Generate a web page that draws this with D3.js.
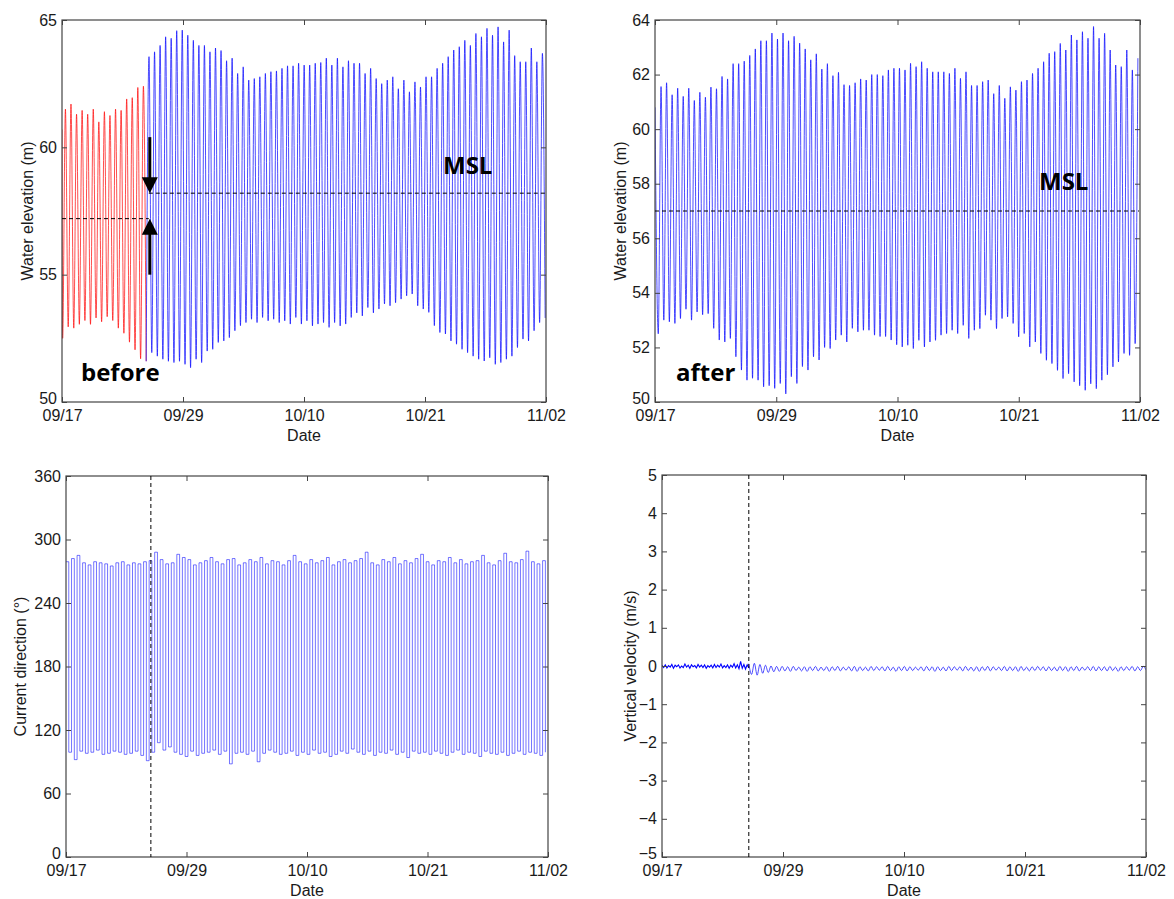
<!DOCTYPE html>
<html>
<head>
<meta charset="utf-8">
<script src="https://cdn.jsdelivr.net/npm/d3@7"></script>
<style>
  body { margin: 0; background: #fff; }
  svg text { font-family: "Liberation Sans", Arial, sans-serif; fill: #1a1a1a; }
  .note { font-family: "Open Sans", sans-serif; font-weight: 700; fill: #000; }
</style>
</head>
<body>
<svg id="chart" width="1174" height="899"></svg>
<script>
// x axis is days after 09/17
const xTickDays = [0, 11.5, 23, 34.5, 46];
const xTickLabels = ["09/17", "09/29", "10/10", "10/21", "11/02"];
const switchDay = 8.25;

// top left: before (red) part, low/high water of every tide
const beforeStart = 60.7;
const beforeLow = [52.5, 52.95, 52.9, 53.05, 53.2, 53.05, 53.3, 53.15, 53.35, 53.2, 52.9, 52.7, 52.35, 52.05, 51.7, 51.6];
const beforeHigh = [61.5, 61.7, 61.3, 61.45, 61.3, 61.5, 61.0, 61.4, 61.25, 61.5, 61.45, 61.9, 61.95, 62.35, 62.4];
const beforeMsl = 57.2;

// top left: blue part
const tlHigh = [63.56, 63.75, 64.0, 64.34, 64.28, 64.58, 64.6, 64.4, 64.2, 64.0, 64.0, 63.75, 63.9, 63.8, 63.4, 63.5, 62.9, 63.16, 62.64, 62.7, 62.77, 62.9, 62.97, 63.0, 63.1, 63.2, 63.2, 63.3,
  63.23, 63.23, 63.3, 63.33, 63.5, 63.23, 63.5, 63.16, 63.4, 63.3, 63.3, 62.9, 63.1, 62.7, 62.5, 62.64, 62.77, 62.3, 62.64, 62.18, 62.57, 62.37, 62.77, 62.77, 63.1, 63.3, 63.56, 63.82, 63.95, 64.2, 64.0, 64.47, 64.34, 64.67, 64.4, 64.73, 64.14, 64.6, 63.6, 63.36, 63.36, 63.9, 63.36, 63.69];
const tlLow = [51.94, 51.8, 51.68, 51.6, 51.55, 51.6, 51.48, 51.35, 51.68, 51.55, 52.0, 52.07, 52.34, 52.4, 52.53, 52.8, 53.0, 53.12, 53.25, 53.12, 53.32, 53.19, 53.25, 53.12, 53.19, 53.06, 53.32, 53.06,
  53.19, 52.99, 53.06, 53.12, 52.93, 53.12, 52.99, 53.06, 53.32, 53.5, 53.38, 53.71, 53.5, 53.65, 53.85, 53.78, 53.9, 54.04, 54.17, 54.24, 53.78, 53.65, 53.52, 53.0, 52.73, 52.67, 52.4, 52.27, 52.07, 51.94, 51.8, 51.68, 51.61, 51.74, 51.48, 51.55, 51.68, 51.8, 52.14, 52.47, 52.4, 52.8, 53.12, 53.3];
const tlStart = 51.6;
const afterMslTL = 58.2;

// top right: after
const trStart = 60.8;
const trLow = [52.5, 53.0, 52.94, 52.88, 53.06, 53.4, 53.0, 53.3, 53.2, 53.24, 52.7, 52.27, 52.2, 52.33, 51.66, 51.17, 50.8, 50.87, 50.8, 50.56, 50.6, 50.5, 50.68, 50.3, 50.93, 50.68, 51.3, 51.17, 51.66, 51.54, 52.0, 51.96, 52.27, 52.45, 52.2, 52.7, 52.57, 52.63, 52.63, 52.45, 52.4, 52.4, 52.27, 52.1,
  52.02, 52.08, 51.96, 52.26, 52.02, 52.2, 52.26, 52.45, 52.51, 52.63, 52.51, 52.81, 52.33, 52.63, 52.69, 53.18, 53.0, 52.69, 53.06, 53.12, 52.88, 52.39, 52.51, 52.02, 52.2, 51.78, 51.53, 51.41, 51.16, 50.86, 51.04, 50.74, 50.6, 50.43, 50.67, 50.49, 50.8, 51.0, 51.29, 51.47, 51.78, 51.71, 52.14];
const trHigh = [61.56, 61.7, 61.26, 61.5, 61.2, 61.5, 61.05, 61.35, 61.17, 61.54, 61.48, 61.93, 61.84, 62.4, 62.4, 62.49, 62.7, 62.94, 63.24, 63.24, 63.52, 63.3, 63.52, 63.24, 63.4, 63.15, 62.94, 62.54, 62.76, 62.2, 62.4, 61.96, 62.08, 61.63, 61.6, 61.7, 61.84, 61.8, 62.0, 62.0, 61.96,
  62.17, 62.23, 62.23, 62.17, 62.41, 62.29, 62.47, 62.23, 62.1, 62.1, 62.1, 62.04, 62.23, 61.86, 62.1, 61.6, 61.6, 61.74, 61.8, 61.3, 61.6, 61.13, 61.55, 61.43, 61.74, 61.8, 62.04, 62.23, 62.47, 62.78, 62.84, 63.14, 62.9, 63.45, 63.27, 63.57, 63.33, 63.76, 63.33, 63.51, 62.9, 62.35, 62.29, 62.9, 62.17, 62.6];
const afterMslTR = 57.0;

// bottom left: current direction plateaus of every tide (deg)
const dirHigh = [279, 282, 285, 278, 276, 279, 278, 277, 275, 278, 279, 276, 278, 277, 279, 280, 288, 281, 277, 278, 286, 283, 281, 276, 278, 280, 283, 279, 277, 281,
  282, 276, 278, 281, 279, 283, 277, 280, 279, 276, 280, 285, 279, 277, 281, 278, 280, 283, 276, 279, 281, 278, 280, 282, 288, 278, 276, 281, 279, 283,
  277, 280, 278, 282, 286, 279, 276, 280, 279, 283, 278, 281, 277, 279, 280, 285, 278, 276, 280, 287, 279, 278, 281, 289, 279, 277, 280];
const dirLow = [99, 92, 100, 98, 99, 101, 97, 98, 100, 99, 97, 98, 100, 96, 91, 99, 108, 101, 104, 99, 97, 95, 100, 96, 98, 99, 101, 97, 100, 88,
  98, 99, 97, 100, 90, 98, 101, 99, 97, 98, 100, 96, 99, 97, 101, 98, 99, 95, 97, 100, 98, 102, 99, 97, 100, 96, 99, 98, 101, 97,
  99, 94, 100, 98, 99, 97, 100, 98, 96, 99, 101, 97, 99, 98, 95, 100, 98, 97, 99, 96, 98, 100, 97, 99, 98, 96, 99];

// bottom right: vertical velocity (m/s)
const velBefore = [0.02, -0.04, 0.03, -0.05, 0.01, -0.03, 0.04, -0.06, 0.02, -0.02, 0.03, -0.05, 0.0, -0.04, 0.05, -0.03, 0.02, -0.06, 0.03, -0.02, 0.01, -0.05, 0.04, -0.03, 0.02, -0.04, 0.03,
  -0.06, 0.01, -0.03, 0.02, -0.05, 0.04, -0.04, 0.02, -0.03, 0.05, -0.05, 0.01, -0.04, 0.03, -0.06, 0.02, -0.03, 0.06, -0.05, 0.03, -0.07, 0.12, -0.06, 0.04, -0.08, 0.03, -0.05];
const velHigh = [0.06, 0.07, 0.04, 0.02, 0.0, -0.01, -0.01, -0.02, -0.01, -0.03, -0.02, -0.02, -0.01, -0.03, -0.02, -0.02, -0.01, -0.03, -0.02, -0.01, -0.02, -0.03, -0.01, -0.02, -0.02, -0.01, -0.03, -0.02, -0.01, -0.02, -0.03, -0.02, -0.01, -0.02, -0.02, -0.03,
  -0.01, -0.02, -0.02, -0.01, -0.03, -0.02, -0.02, -0.01, -0.02, -0.03, -0.01, -0.02, -0.02, -0.01, -0.03, -0.02, -0.01, -0.02, -0.02, -0.03, -0.01, -0.02, -0.02, -0.01, -0.03, -0.02, -0.01, -0.02, -0.02, -0.01, -0.03, -0.02, -0.02, -0.01, -0.02, -0.01];
const velLow = [-0.22, -0.24, -0.19, -0.17, -0.15, -0.14, -0.13, -0.14, -0.12, -0.13, -0.14, -0.12, -0.13, -0.12, -0.14, -0.12, -0.13, -0.11, -0.13, -0.14, -0.12, -0.13, -0.12, -0.11, -0.13, -0.12, -0.14, -0.12, -0.13, -0.12, -0.11, -0.13, -0.12, -0.14, -0.12, -0.13,
  -0.12, -0.11, -0.13, -0.12, -0.13, -0.14, -0.12, -0.13, -0.11, -0.12, -0.13, -0.12, -0.14, -0.12, -0.13, -0.12, -0.11, -0.13, -0.12, -0.13, -0.12, -0.14, -0.12, -0.13, -0.11, -0.12, -0.13, -0.12, -0.13, -0.12, -0.14, -0.12, -0.11, -0.13, -0.12, -0.1];

// helpers: put two lists in turn and spread them evenly in time
function interleave(a, b) {
  const out = [];
  for (let i = 0; i < Math.max(a.length, b.length); i++) {
    if (i < a.length) out.push(a[i]);
    if (i < b.length) out.push(b[i]);
  }
  return out;
}
function timed(values, t0, t1) {
  const step = (t1 - t0) / (values.length - 1);
  return values.map((v, i) => ({ t: t0 + i * step, v: v }));
}

const svg = d3.select("#chart");
const BLUE = "#0000ff", RED = "#ff0000";

function panel(box, yDomain, yTicks, yLabel, labelX) {
  const g = svg.append("g");
  const x = d3.scaleLinear().domain([0, 46]).range([box.left, box.right]);
  const y = d3.scaleLinear().domain(yDomain).range([box.bottom, box.top]);
  const id = "clip" + Math.round(box.left) + Math.round(box.top);
  svg.append("clipPath").attr("id", id).append("rect")
    .attr("x", box.left).attr("y", box.top)
    .attr("width", box.right - box.left).attr("height", box.bottom - box.top);
  const plot = g.append("g").attr("clip-path", `url(#${id})`);

  const ax = g.append("g");
  const bottom = d3.axisBottom(x).tickValues(xTickDays).tickFormat((d, i) => xTickLabels[i])
    .tickSizeInner(-5).tickSizeOuter(0).tickPadding(8);
  const top = d3.axisTop(x).tickValues(xTickDays).tickFormat("").tickSizeInner(-5).tickSizeOuter(0);
  const left = d3.axisLeft(y).tickValues(yTicks).tickSizeInner(-5).tickSizeOuter(0).tickPadding(5);
  const right = d3.axisRight(y).tickValues(yTicks).tickFormat("").tickSizeInner(-5).tickSizeOuter(0);
  ax.append("g").attr("transform", `translate(0,${box.bottom})`).call(bottom);
  ax.append("g").attr("transform", `translate(0,${box.top})`).call(top);
  const leftG = ax.append("g").attr("transform", `translate(${box.left},0)`).call(left);
  ax.append("g").attr("transform", `translate(${box.right},0)`).call(right);
  ax.selectAll(".domain").remove();
  ax.selectAll(".tick line").attr("stroke", "#444");
  ax.selectAll(".tick text").attr("font-size", 16).attr("fill", "#1a1a1a");
  // lowest value label sits in the corner, just above the first date
  leftG.selectAll(".tick text").filter(d => d === yDomain[0]).attr("y", -4);
  g.append("rect").attr("x", box.left).attr("y", box.top)
    .attr("width", box.right - box.left).attr("height", box.bottom - box.top)
    .attr("fill", "none").attr("stroke", "#444").attr("stroke-width", 1.2);

  g.append("text").attr("x", (box.left + box.right) / 2).attr("y", box.bottom + 39)
    .attr("text-anchor", "middle").attr("font-size", 16).text("Date");
  g.append("text").attr("transform", `translate(${labelX},${(box.top + box.bottom) / 2}) rotate(-90)`)
    .attr("text-anchor", "middle").attr("dominant-baseline", "central")
    .attr("font-size", 16).text(yLabel);
  return { x, y, plot, g };
}

function drawLine(p, data, color, curve, width) {
  p.plot.append("path").datum(data)
    .attr("fill", "none").attr("stroke", color).attr("stroke-width", width || 0.7)
    .attr("d", d3.line().x(d => p.x(d.t)).y(d => p.y(d.v)).curve(curve));
}
function dashed(p, x1, x2, y1, y2) {
  p.g.append("line").attr("x1", x1).attr("x2", x2).attr("y1", y1).attr("y2", y2)
    .attr("stroke", "#000").attr("stroke-width", 1).attr("stroke-dasharray", "4,3");
}

// ---- top left
const tl = panel({ left: 62, top: 20, right: 546, bottom: 402 }, [50, 65], [50, 55, 60, 65], "Water elevation (m)", 27);
drawLine(tl, [{ t: 0, v: beforeStart }].concat(timed(interleave(beforeLow, beforeHigh), 0.06, 8.0)), RED, d3.curveMonotoneX);
drawLine(tl, [{ t: 8.0, v: tlStart }].concat(timed(interleave(tlHigh, tlLow), 8.27, 45.92)), BLUE, d3.curveMonotoneX);
dashed(tl, tl.x(0), tl.x(switchDay), tl.y(beforeMsl), tl.y(beforeMsl));
dashed(tl, tl.x(switchDay), tl.x(46) - 1, tl.y(afterMslTL), tl.y(afterMslTL));

// arrows toward both mean levels
const ax0 = tl.x(switchDay) + 1;
function arrow(fromV, toV) {
  const y0 = tl.y(fromV), y1 = tl.y(toV);
  const dir = y1 > y0 ? 1 : -1;
  tl.g.append("line").attr("x1", ax0).attr("x2", ax0).attr("y1", y0).attr("y2", y1 - dir * 12)
    .attr("stroke", "#000").attr("stroke-width", 3);
  tl.g.append("path").attr("fill", "#000")
    .attr("d", `M${ax0 - 8},${y1 - dir * 16}L${ax0 + 8},${y1 - dir * 16}L${ax0},${y1}Z`);
}
arrow(60.4, afterMslTL);
arrow(55.0, beforeMsl);
tl.g.append("text").attr("class", "note").attr("x", 81).attr("y", 381).attr("font-size", 24).text("before");
tl.g.append("text").attr("class", "note").attr("x", 443).attr("y", 174).attr("font-size", 24).text("MSL");

// ---- top right
const tr = panel({ left: 655, top: 20, right: 1140, bottom: 402 }, [50, 64], [50, 52, 54, 56, 58, 60, 62, 64], "Water elevation (m)", 620);
drawLine(tr, [{ t: 0, v: trStart }].concat(timed(interleave(trLow, trHigh), 0.31, 45.8)), BLUE, d3.curveMonotoneX);
dashed(tr, tr.x(0), tr.x(46) - 1, tr.y(afterMslTR), tr.y(afterMslTR));
tr.g.append("text").attr("class", "note").attr("x", 676).attr("y", 381).attr("font-size", 24).text("after");
tr.g.append("text").attr("class", "note").attr("x", 1039).attr("y", 190).attr("font-size", 24).text("MSL");

// ---- bottom left
const bl = panel({ left: 66, top: 476, right: 548, bottom: 857 }, [0, 360], d3.range(0, 361, 60), "Current direction (\u00b0)", 20);
drawLine(bl, timed(interleave(dirHigh, dirLow), 0, 45.75), BLUE, d3.curveStepAfter, 0.55);
dashed(bl, bl.x(switchDay - 0.15), bl.x(switchDay - 0.15), 476, 857);

// ---- bottom right
const br = panel({ left: 662, top: 475, right: 1146, bottom: 857 }, [-5, 5], d3.range(-5, 6, 1), "Vertical velocity (m/s)", 630);
drawLine(br, timed(velBefore, 0, switchDay), BLUE, d3.curveLinear, 1.1);
drawLine(br, timed(interleave(velHigh, velLow), switchDay, 46), BLUE, d3.curveMonotoneX, 0.7);
dashed(br, br.x(switchDay), br.x(switchDay), 475, 857);
</script>
</body>
</html>
